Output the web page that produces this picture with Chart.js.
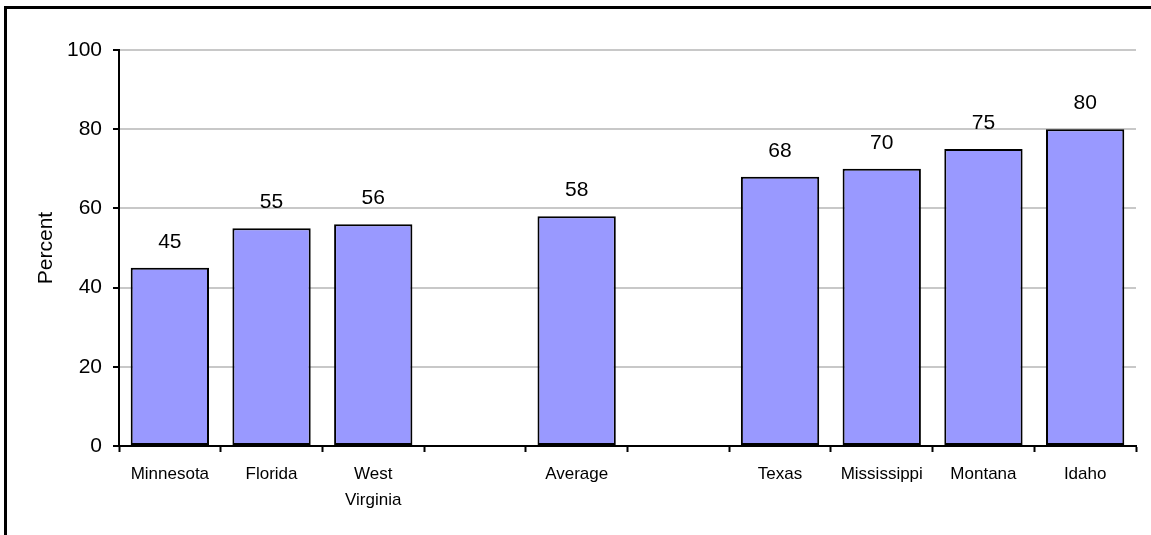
<!DOCTYPE html>
<html lang="en">
<head>
  <meta charset="UTF-8" />
  <title>Percent by state</title>
  <script src="https://cdn.jsdelivr.net/npm/chart.js"></script>
  <style>
    html, body { margin: 0; padding: 0; background: #fff; }
    #wrap { position: relative; width: 1151px; height: 535px; overflow: hidden; }
    #frame { position: absolute; left: 4px; top: 6px; right: -10px; bottom: -10px;
             border-left: 3px solid #000; border-top: 3px solid #000; pointer-events: none; }
    canvas { position: absolute; left: 0; top: 0; }
  </style>
</head>
<body>
  <div id="wrap">
    <canvas id="chart" width="1151" height="535"></canvas>
    <div id="frame"></div>
  </div>

  <script>
    // data (blank slots are the gaps around "Average")
    const categories = ['Minnesota', 'Florida', ['West', 'Virginia'], '', 'Average', '', 'Texas', 'Mississippi', 'Montana', 'Idaho'];
    const percentValues = [45, 55, 56, null, 58, null, 68, 70, 75, 80];
    const yTicks = [0, 20, 40, 60, 80, 100];

    const FONT = 'Arial, "Liberation Sans", sans-serif';

    // value labels above each bar
    const barLabels = {
      id: 'barLabels',
      afterDatasetsDraw(chart) {
        const ctx = chart.ctx;
        const meta = chart.getDatasetMeta(0);
        ctx.save();
        ctx.font = '21px ' + FONT;
        ctx.fillStyle = '#000';
        ctx.textAlign = 'center';
        ctx.textBaseline = 'alphabetic';
        meta.data.forEach(function (bar, i) {
          const v = percentValues[i];
          if (v === null) return;
          ctx.fillText(String(v), bar.x, bar.y - 20);
        });
        ctx.restore();
      }
    };

    new Chart(document.getElementById('chart'), {
      type: 'bar',
      data: {
        labels: categories,
        datasets: [{
          label: 'Percent',
          data: percentValues,
          backgroundColor: '#9999ff',
          borderColor: '#000',
          borderWidth: 2,
          borderSkipped: false,
          categoryPercentage: 1,
          barPercentage: 0.77
        }]
      },
      options: {
        responsive: false,
        animation: false,
        layout: { padding: { top: 50, right: 15, bottom: 0, left: 0 } },
        plugins: {
          legend: { display: false },
          tooltip: { enabled: false }
        },
        scales: {
          x: {
            afterFit(scale) { scale.height = 89; },
            grid: {
              offset: true,
              drawOnChartArea: false,
              tickLength: 6,
              tickColor: '#000',
              tickWidth: 2
            },
            border: { color: '#000', width: 2 },
            ticks: {
              color: '#000',
              padding: 10,
              maxRotation: 0,
              autoSkip: false,
              font: { family: FONT, size: 17, lineHeight: 1.5 }
            }
          },
          y: {
            min: 0,
            max: 100,
            afterFit(scale) { scale.width = 119; },
            afterBuildTicks(scale) { scale.ticks = yTicks.map(v => ({ value: v })); },
            grid: {
              color: '#c8c8c8',
              lineWidth: 2,
              tickLength: 6,
              tickColor: '#000',
              tickWidth: 2
            },
            border: { color: '#000', width: 2 },
            ticks: {
              color: '#000',
              padding: 11,
              font: { family: FONT, size: 21 }
            },
            title: {
              display: true,
              text: 'Percent',
              color: '#000',
              padding: { top: 34, bottom: 0 },
              font: { family: FONT, size: 21, lineHeight: 1.2 }
            }
          }
        }
      },
      plugins: [barLabels]
    });
  </script>
</body>
</html>
